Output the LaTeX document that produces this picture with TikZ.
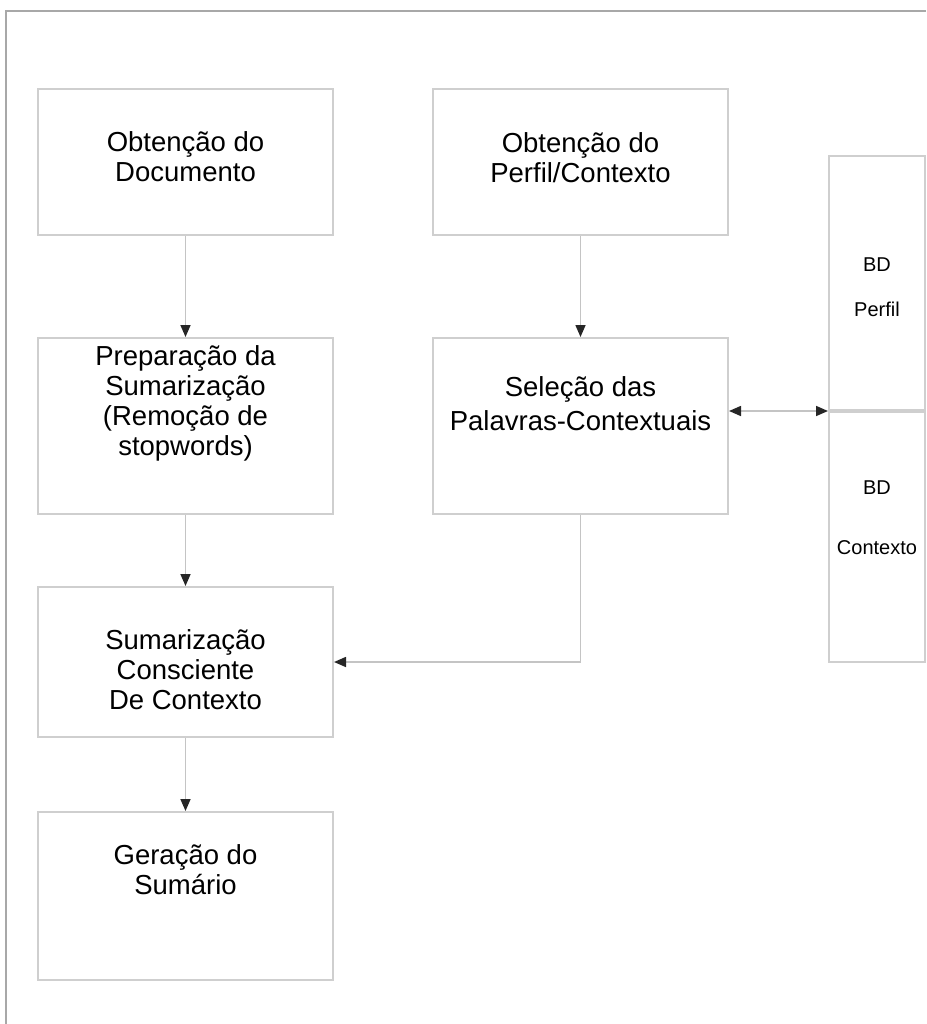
\documentclass[tikz,border=0pt]{standalone}
\usepackage{fontspec}
\setmainfont{Liberation Sans}
\usetikzlibrary{positioning,arrows.meta}
\definecolor{tborda}{HTML}{CFCFCF}
\definecolor{tlinha}{HTML}{C4C4C4}
\definecolor{tquadro}{HTML}{A8A8A8}

\begin{document}
\begin{tikzpicture}[
    x=1pt, y=-1pt,
    >={Triangle[color=black!85, length=12pt, width=10pt]},
    etapa/.style={draw=tborda, line width=2pt, rectangle, minimum width=295pt,
                  inner sep=0pt},
    rotulo/.style={align=center, inner sep=0pt, font=\fontsize{27.5}{30}\selectfont},
    banco/.style={draw=tborda, line width=2pt, rectangle, minimum width=96pt,
                  inner sep=0pt},
    rotulobd/.style={align=center, inner sep=0pt, font=\fontsize{20}{24}\selectfont},
    fluxo/.style={->, draw=tlinha, line width=1.6pt}
  ]
  \useasboundingbox (0,0) rectangle (926,1024);
  \draw[tquadro, line width=1.2pt] (926,11) -- (6,11) -- (6,1024);

  \node[etapa, minimum height=146pt,
        label={[rotulo, yshift=5pt]center:{Obtenção do \\ Documento}}] (doc) at (185.5,162) {};
  \node[etapa, minimum height=146pt,
        label={[rotulo, yshift=4pt]center:{Obtenção do \\ Perfil/Contexto}}] (perfil) at (580.5,162) {};
  \node[etapa, minimum height=176pt,
        label={[rotulo, yshift=23pt]center:{Preparação da \\ Sumarização \\ (Remoção de \\ stopwords)}}] (prep) at (185.5,426) {};
  \node[etapa, minimum height=176pt,
        label={[rotulo, yshift=22pt]center:{Seleção das \\[4pt] Palavras-Contextuais}}] (sel) at (580.5,426) {};
  \node[etapa, minimum height=150pt,
        label={[rotulo, yshift=-8pt]center:{Sumarização \\ Consciente \\ De Contexto}}] (sum) at (185.5,662) {};
  \node[etapa, minimum height=168pt,
        label={[rotulo, yshift=26pt]center:{Geração do \\ Sumário}}] (ger) at (185.5,896) {};

  \node[banco, minimum height=254pt,
        label={[rotulobd, yshift=-4pt]center:{BD \\[21pt] Perfil}}] (bdp) at (877,283) {};
  \node[banco, minimum height=250pt,
        label={[rotulobd, yshift=19pt]center:{BD \\[36pt] Contexto}}] (bdc) at (877,537) {};

  \draw[fluxo] (doc) -- (prep);
  \draw[fluxo] (perfil) -- (sel);
  \draw[fluxo] (prep) -- (sum);
  \draw[fluxo] (sum) -- (ger);
  \draw[fluxo] (sel.south) |- (sum.east);
  \draw[fluxo, <->] (sel.east |- bdp.south west) -- (bdp.south west);
\end{tikzpicture}
\end{document}
